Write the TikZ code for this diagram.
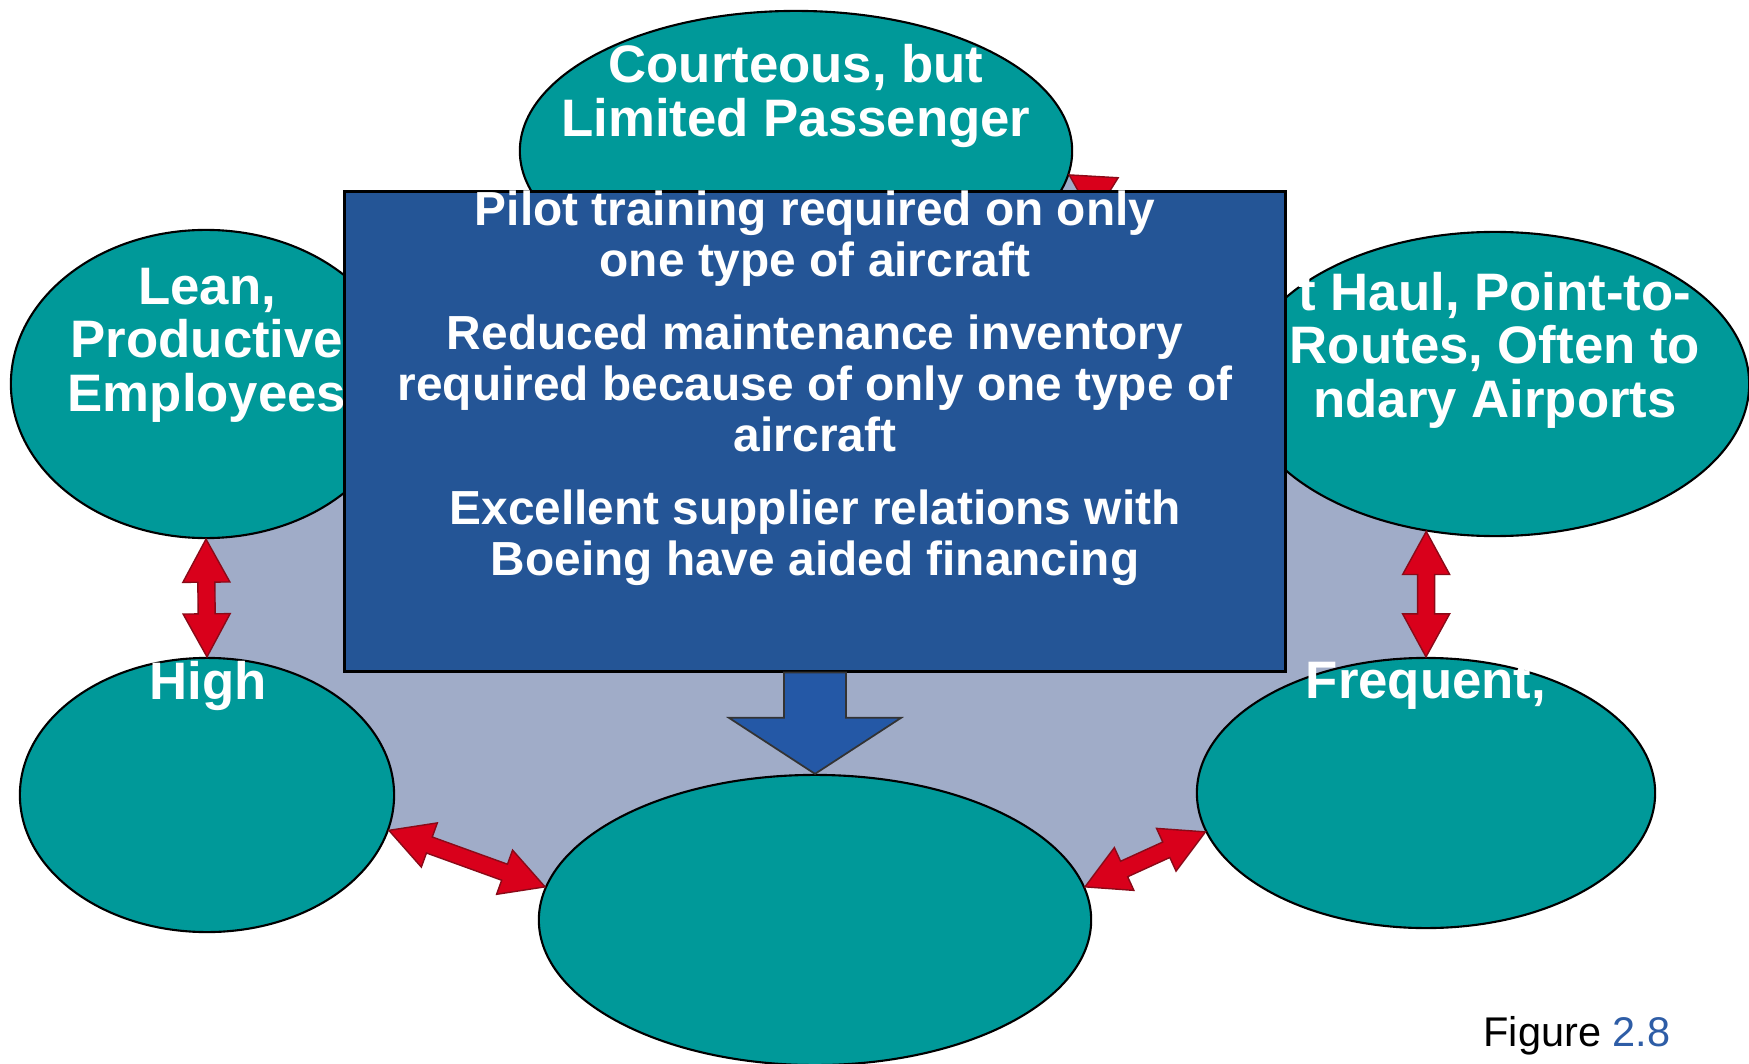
\documentclass[tikz,border=0pt]{standalone}
\usepackage{fontspec}
\setmainfont{Liberation Sans}
\usetikzlibrary{shapes.geometric,calc,backgrounds}

\definecolor{ovalteal}{HTML}{009999}
\definecolor{boxblue}{HTML}{245596}
\definecolor{greyarea}{HTML}{A0ACC8}
\definecolor{arrowred}{HTML}{D9001B}
\definecolor{arrowdark}{HTML}{8A0A18}
\definecolor{downblue}{HTML}{2458A6}
\definecolor{figblue}{HTML}{2E5DA6}

% double-headed block arrow between two points
\newcommand{\dblarrow}[2]{%
  \filldraw[redarrow] (#1)
    -- ($(#1)!0.43cm!(#2)!0.235cm!90:(#2)$)
    -- ($(#1)!0.43cm!(#2)!0.085cm!90:(#2)$)
    -- ($(#2)!0.43cm!(#1)!0.085cm!-90:(#1)$)
    -- ($(#2)!0.43cm!(#1)!0.235cm!-90:(#1)$)
    -- (#2)
    -- ($(#2)!0.43cm!(#1)!0.235cm!90:(#1)$)
    -- ($(#2)!0.43cm!(#1)!0.085cm!90:(#1)$)
    -- ($(#1)!0.43cm!(#2)!0.085cm!-90:(#2)$)
    -- ($(#1)!0.43cm!(#2)!0.235cm!-90:(#2)$)
    -- cycle;}

\begin{document}
\begin{tikzpicture}[x=0.01cm, y=-0.01cm,
  oval/.style={ellipse, draw=black, line width=0.6pt, fill=ovalteal, inner sep=0pt},
  ovaltext/.style={text=white, inner sep=0pt, align=center,
    font=\bfseries\fontsize{15}{15.2}\selectfont},
  boxtext/.style={text=white, inner sep=0pt, align=center,
    font=\bfseries\fontsize{13.6}{14.6}\selectfont},
  redarrow/.style={fill=arrowred, draw=arrowdark, line width=0.4pt},
  bluearrow/.style={fill=downblue, draw=black!80, line width=0.5pt}]
  \useasboundingbox (0,0) rectangle (1749,1064);
  % the six ovals
  \node[oval, minimum width=5.52cm, minimum height=2.80cm] (courteous) at (796,151) {};
  \node[oval, minimum width=3.90cm, minimum height=3.08cm] (lean) at (206,384) {};
  \node[oval, minimum width=5.08cm, minimum height=3.04cm] (haul) at (1495,384) {};
  \node[oval, minimum width=3.74cm, minimum height=2.74cm] (high) at (207,795) {};
  \node[oval, minimum width=4.58cm, minimum height=2.70cm] (frequent) at (1426,793) {};
  \node[oval, minimum width=5.52cm, minimum height=2.90cm] (bottomoval) at (815,920) {};
  % grey area behind the ring
  \begin{scope}[on background layer]
    \fill[greyarea] (courteous.-5) -- (haul.160) -- (haul.-115) -- (frequent.north)
      -- (frequent.-170) -- (bottomoval.7) -- (bottomoval.173) -- (high.-11)
      -- (high.north) -- (lean.south) -- (courteous.center) -- cycle;
  \end{scope}
  % oval texts
  \node[ovaltext] (courteoustext) at (796,96) {Courteous, but\\Limited Passenger};
  \node[ovaltext] (leantext) at (207,345) {Lean,\\Productive\\Employees};
  \node[ovaltext] (haultext) at (1495,350) {t Haul, Point-to-\\Routes, Often to\\ndary Airports};
  \node[ovaltext] (hightext) at (208,686) {High};
  \node[ovaltext] (frequenttext) at (1426,686) {Frequent,};
  % red links
  \dblarrow{lean.south}{high.north}
  \dblarrow{haul.-115}{frequent.north}
  \dblarrow{high.-11}{bottomoval.173}
  \dblarrow{bottomoval.7}{frequent.-170}
  \dblarrow{courteous.-5}{haul.160}
  % central box
  \node[draw=black, line width=0.8pt, fill=boxblue, inner sep=0pt,
    minimum width=9.4cm, minimum height=4.79cm] (plan) at (815,431.5) {};
  \node[boxtext, anchor=north] (plantext) at (815,190) {Pilot training required on only\\
    one type of aircraft\\[6pt]
    Reduced maintenance inventory\\
    required because of only one type of\\
    aircraft\\[6pt]
    Excellent supplier relations with\\
    Boeing have aided financing};
  % down arrow
  \filldraw[bluearrow] ($(plan.south)+(-31,0)$) -- ($(bottomoval.north)+(-31,-56)$)
    -- ($(bottomoval.north)+(-86,-56)$) -- (bottomoval.north)
    -- ($(bottomoval.north)+(86,-56)$) -- ($(bottomoval.north)+(31,-56)$)
    -- ($(plan.south)+(31,0)$) -- cycle;
  \node[font=\fontsize{11.8}{14}\selectfont] (figlabel) at (1577,1036)
    {Figure \textcolor{figblue}{2.8}};
\end{tikzpicture}
\end{document}
